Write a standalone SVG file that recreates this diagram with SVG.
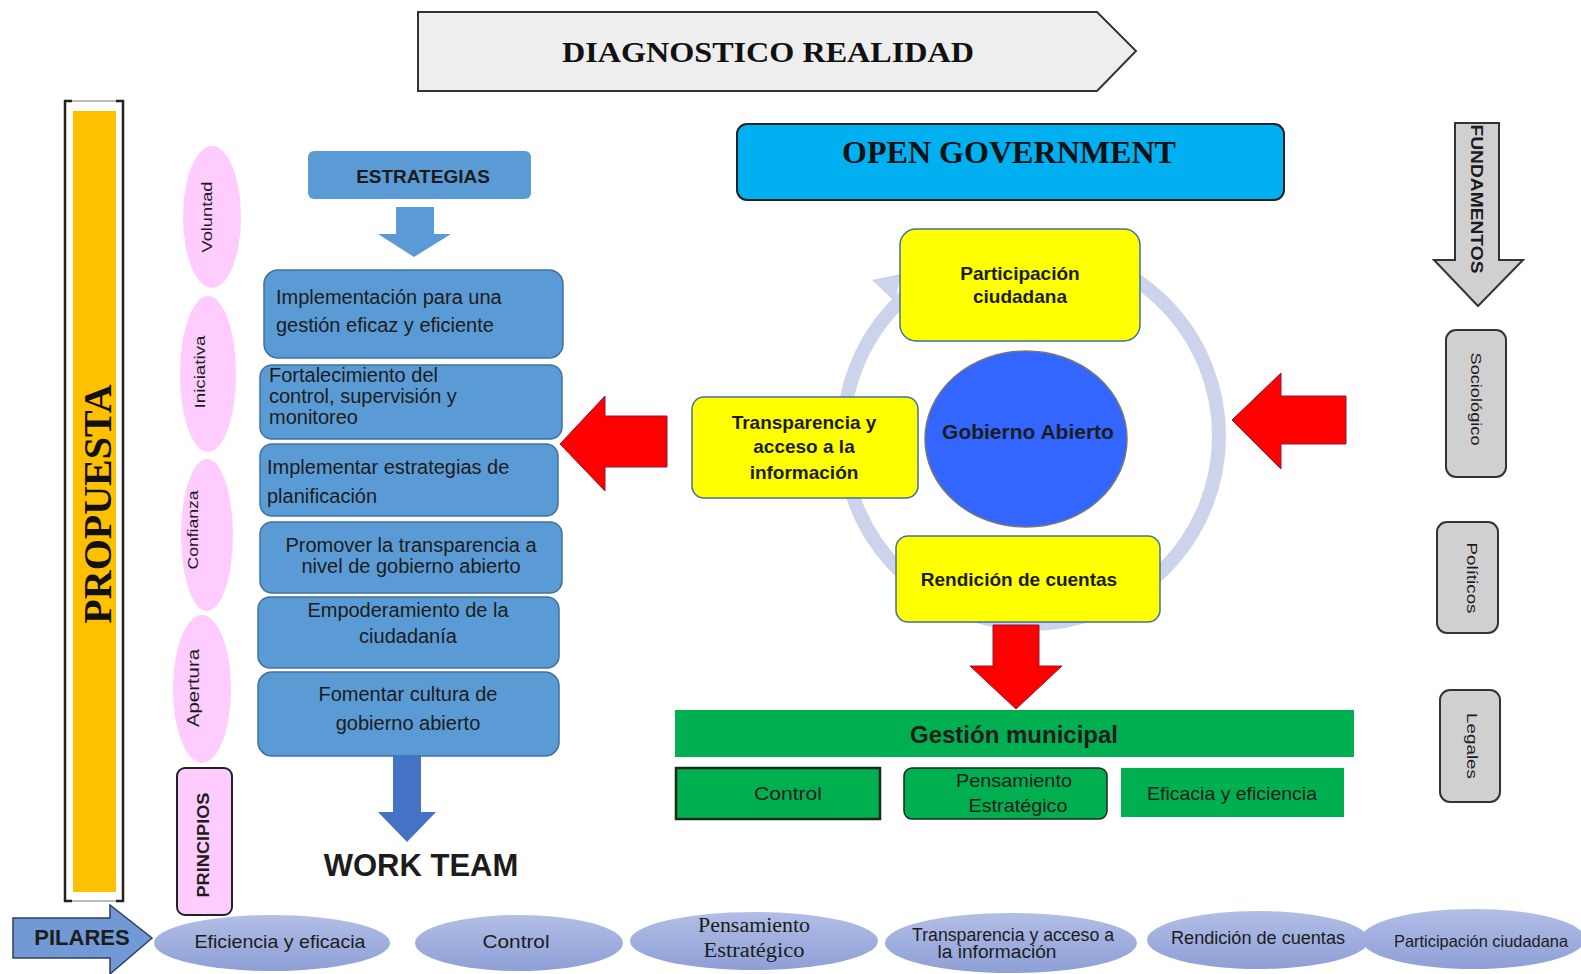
<svg xmlns="http://www.w3.org/2000/svg" width="1581" height="974" viewBox="0 0 1581 974">
<defs>
<linearGradient id="pil" x1="0" y1="0" x2="0" y2="1">
<stop offset="0" stop-color="#b2bee6"/><stop offset="1" stop-color="#8e9fd6"/>
</linearGradient>
<style>
.t{font-family:"Liberation Sans",Arial,sans-serif;fill:#1c1c1c}
.b{font-weight:bold}
.serif{font-family:"Liberation Serif","Times New Roman",serif;font-weight:bold;fill:#111}
.strat{fill:#5b9bd5;stroke:#41719c;stroke-width:1.5}
.yel{fill:#ffff00;stroke:#41719c;stroke-width:1.5}
.pink{fill:#ffccff}
.grey{fill:#d0d0d0;stroke:#333;stroke-width:2}
.green{fill:#00b050}
.pil{fill:url(#pil)}
.red{fill:#ff0000;stroke:#8a1a3a;stroke-width:1}
.s15{font-size:15px}
.s17{font-size:17px}
.s18{font-size:18px}
.s19{font-size:19px}
.s20{font-size:20px}
.mid{text-anchor:middle}
</style>
</defs>
<rect width="1581" height="974" fill="#ffffff"/>

<g id="diagnostico">
<polygon points="418,12 1097,12 1136,51 1097,91 418,91" fill="#eeeeee" stroke="#333" stroke-width="2"/>
<text x="768" y="62" class="serif mid" font-size="30" textLength="412" lengthAdjust="spacingAndGlyphs">DIAGNOSTICO REALIDAD</text>
</g>

<g id="propuesta">
<rect x="65" y="101" width="58" height="800" fill="#fff" stroke="#bbb" stroke-width="2"/>
<path d="M72,101 H65 V901 H72 M116,101 H123 V901 H116" fill="none" stroke="#222" stroke-width="2.5"/>
<rect x="73" y="111" width="43" height="781" fill="#ffc000"/>
<text transform="translate(111,504) rotate(-90)" class="serif mid" font-size="40">PROPUESTA</text>
</g>

<g id="principios">
<ellipse cx="212" cy="217" rx="29" ry="71" class="pink"/>
<text transform="translate(212,217) rotate(-90)" class="t s15 mid" textLength="71" lengthAdjust="spacingAndGlyphs">Voluntad</text>
<ellipse cx="208" cy="374" rx="28" ry="78" class="pink"/>
<text transform="translate(205,372) rotate(-90)" class="t s15 mid" textLength="73" lengthAdjust="spacingAndGlyphs">Iniciativa</text>
<ellipse cx="207" cy="535" rx="26" ry="76" class="pink"/>
<text transform="translate(198,530) rotate(-90)" class="t s15 mid" textLength="79" lengthAdjust="spacingAndGlyphs">Confianza</text>
<ellipse cx="202" cy="689" rx="29" ry="74" class="pink"/>
<text transform="translate(199,688) rotate(-90)" class="t s17 mid" textLength="78" lengthAdjust="spacingAndGlyphs">Apertura</text>
<rect x="177" y="768" width="55" height="147" rx="8" fill="#ffccff" stroke="#222" stroke-width="2"/>
<text transform="translate(209,845) rotate(-90)" class="t b s17 mid" textLength="105" lengthAdjust="spacingAndGlyphs">PRINCIPIOS</text>
</g>

<g id="pilares">
<polygon points="13,918 110,918 110,905 152,938 110,974 110,958 13,958" fill="#7099d6" stroke="#2f3f5f" stroke-width="1.5"/>
<text x="82" y="939" class="t b mid" font-size="22" dominant-baseline="middle">PILARES</text>
<ellipse cx="272" cy="943" rx="118" ry="28" class="pil"/>
<text x="280" y="948" class="t s19 mid" textLength="171" lengthAdjust="spacingAndGlyphs">Eficiencia y eficacia</text>
<ellipse cx="519" cy="943" rx="104" ry="28" class="pil"/>
<text x="516" y="948" class="t s19 mid" textLength="67" lengthAdjust="spacingAndGlyphs">Control</text>
<ellipse cx="754" cy="941" rx="124" ry="29" class="pil"/>
<text x="754" y="932" font-family="Liberation Serif,serif" font-size="20" fill="#1c1c1c" text-anchor="middle" textLength="112" lengthAdjust="spacingAndGlyphs">Pensamiento</text>
<text x="754" y="957" font-family="Liberation Serif,serif" font-size="20" fill="#1c1c1c" text-anchor="middle" textLength="101" lengthAdjust="spacingAndGlyphs">Estratégico</text>
<ellipse cx="1011" cy="943" rx="126" ry="30" class="pil"/>
<text x="1013" y="941" class="t s18 mid" textLength="202" lengthAdjust="spacingAndGlyphs">Transparencia y acceso a</text>
<text x="997" y="958" class="t s18 mid" textLength="119" lengthAdjust="spacingAndGlyphs">la información</text>
<ellipse cx="1258" cy="940" rx="111" ry="29" class="pil"/>
<text x="1258" y="944" class="t s18 mid" textLength="174" lengthAdjust="spacingAndGlyphs">Rendición de cuentas</text>
<ellipse cx="1473" cy="939" rx="112" ry="30" class="pil"/>
<text x="1481" y="947" class="t mid" font-size="16.5" textLength="174" lengthAdjust="spacingAndGlyphs">Participación ciudadana</text>
</g>

<g id="estrategias">
<rect x="308" y="151" width="223" height="48" rx="6" fill="#5b9bd5"/>
<text x="423" y="183" class="t b mid" font-size="19">ESTRATEGIAS</text>
</g>

<g id="s1"><rect x="264" y="270" width="299" height="88" rx="14" class="strat"/>
<text x="276" y="304" class="t s20">Implementación para una</text>
<text x="276" y="332" class="t s20">gestión eficaz y eficiente</text></g>
<g id="s2"><rect x="260" y="365" width="302" height="74" rx="12" class="strat"/>
<text x="269" y="382" class="t s20">Fortalecimiento del</text>
<text x="269" y="403" class="t s20">control, supervisión y</text>
<text x="269" y="424" class="t s20">monitoreo</text></g>
<g id="s3"><rect x="260" y="444" width="298" height="72" rx="12" class="strat"/>
<text x="267" y="474" class="t s20">Implementar estrategias de</text>
<text x="267" y="503" class="t s20">planificación</text></g>
<g id="s4"><rect x="260" y="522" width="302" height="71" rx="12" class="strat"/>
<text x="411" y="552" class="t s20 mid">Promover la transparencia a</text>
<text x="411" y="573" class="t s20 mid">nivel de gobierno abierto</text></g>
<g id="s5"><rect x="258" y="597" width="301" height="71" rx="12" class="strat"/>
<text x="408" y="617" class="t s20 mid">Empoderamiento de la</text>
<text x="408" y="643" class="t s20 mid">ciudadanía</text></g>
<g id="s6"><rect x="258" y="672" width="301" height="84" rx="14" class="strat"/>
<text x="408" y="701" class="t s20 mid">Fomentar cultura de</text>
<text x="408" y="730" class="t s20 mid">gobierno abierto</text></g>

<g id="worklabel">
<text x="421" y="876" class="t b mid" font-size="31" fill="#111">WORK TEAM</text>
</g>

<g id="open-gov">
<rect x="737" y="124" width="547" height="76" rx="10" fill="#00b0f0" stroke="#222" stroke-width="2"/>
<text x="1009" y="163" class="serif mid" font-size="32" textLength="334" lengthAdjust="spacingAndGlyphs">OPEN GOVERNMENT</text>
</g>

<g id="ring">
<circle cx="1031" cy="436" r="188" fill="none" stroke="#cdd3ea" stroke-width="14"/>
<polygon points="901,274 895,302 872,280" fill="#cdd3ea"/>
</g>

<g id="participacion"><rect x="900" y="229" width="240" height="112" rx="16" class="yel"/>
<text x="1020" y="280" class="t b s19 mid">Participación</text>
<text x="1020" y="303" class="t b s19 mid">ciudadana</text></g>
<g id="transparencia"><rect x="692" y="397" width="226" height="101" rx="12" class="yel"/>
<text x="804" y="429" class="t b s19 mid">Transparencia y</text>
<text x="804" y="453" class="t b s19 mid">acceso a la</text>
<text x="804" y="479" class="t b s19 mid">información</text></g>
<g id="gobierno"><ellipse cx="1026" cy="439" rx="101" ry="88" fill="#3366ff" stroke="#777" stroke-width="1.5"/>
<text x="1028" y="433" class="t b mid" font-size="21" fill="#141a3d" dominant-baseline="middle">Gobierno Abierto</text></g>
<g id="rendicion"><rect x="896" y="536" width="264" height="86" rx="12" class="yel"/>
<text x="1019" y="586" class="t b s19 mid">Rendición de cuentas</text></g>

<g id="gestion">
<rect x="675" y="710" width="679" height="47" class="green"/>
<text x="1014" y="743" class="t b mid" font-size="24">Gestión municipal</text>
</g>
<g id="g-control"><rect x="676" y="768" width="204" height="51" class="green" stroke="#1a2a1a" stroke-width="2.5"/>
<text x="788" y="800" class="t s19 mid" textLength="68" lengthAdjust="spacingAndGlyphs">Control</text></g>
<g id="g-pens"><rect x="904" y="768" width="203" height="51" rx="8" class="green" stroke="#1a2a1a" stroke-width="1.5"/>
<text x="1014" y="787" class="t s19 mid" textLength="116" lengthAdjust="spacingAndGlyphs">Pensamiento</text>
<text x="1018" y="812" class="t s19 mid" textLength="99" lengthAdjust="spacingAndGlyphs">Estratégico</text></g>
<g id="g-efic"><rect x="1121" y="768" width="223" height="49" class="green"/>
<text x="1232" y="800" class="t s19 mid" textLength="170" lengthAdjust="spacingAndGlyphs">Eficacia y eficiencia</text></g>

<g id="fundamentos">
<polygon points="1455,123 1499,123 1499,260 1523,260 1478,306 1434,260 1455,260" class="grey"/>
<text transform="translate(1471,199) rotate(90)" class="t b mid" font-size="16" textLength="149" lengthAdjust="spacingAndGlyphs">FUNDAMENTOS</text>
</g>
<g id="sociologico"><rect x="1446" y="330" width="60" height="147" rx="10" class="grey"/>
<text transform="translate(1471,399) rotate(90)" class="t s15 mid" textLength="93" lengthAdjust="spacingAndGlyphs">Sociológico</text></g>
<g id="politicos"><rect x="1437" y="522" width="61" height="111" rx="10" class="grey"/>
<text transform="translate(1467,578) rotate(90)" class="t s15 mid" textLength="71" lengthAdjust="spacingAndGlyphs">Políticos</text></g>
<g id="legales"><rect x="1440" y="690" width="60" height="112" rx="10" class="grey"/>
<text transform="translate(1467,746) rotate(90)" class="t s15 mid" textLength="66" lengthAdjust="spacingAndGlyphs">Legales</text></g>

<g id="connectors">
<polygon points="396,207 434,207 434,234 451,234 414,257 378,234 396,234" fill="#5b9bd5"/>
<polygon points="393,756 421,756 421,812 436,812 407,842 378,812 393,812" fill="#4472c4"/>
<polygon points="560,444 605,396 605,416 667,416 667,467 605,467 605,491" class="red"/>
<polygon points="1232,420 1281,373 1281,396 1346,396 1346,444 1281,444 1281,469" class="red"/>
<polygon points="993,625 1039,625 1039,666 1062,666 1016,709 970,666 993,666" class="red"/>
</g>
</svg>
